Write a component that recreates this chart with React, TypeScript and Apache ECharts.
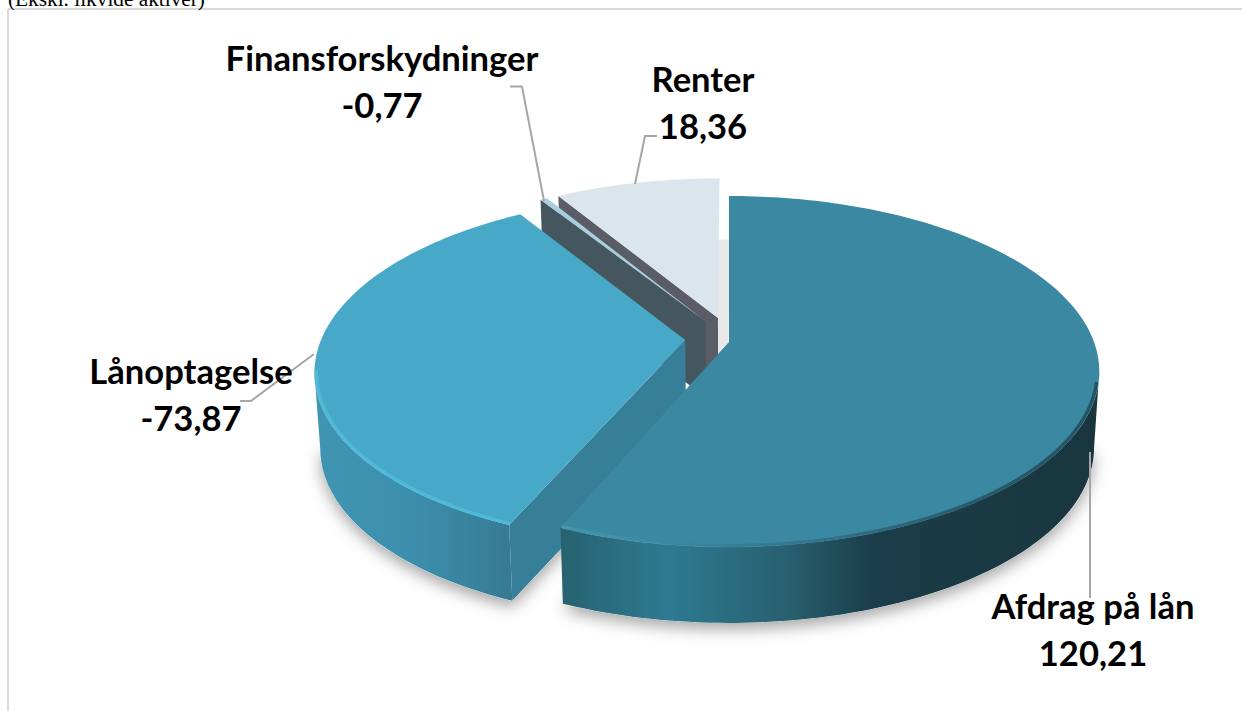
import React, { useEffect, useRef } from "react";
import * as echarts from "echarts";

const categories = ["Afdrag på lån", "Lånoptagelse", "Finansforskydninger", "Renter"];
const values = [120.21, -73.87, -0.77, 18.36];
const caption = "(Ekskl. likvide aktiver)";

// projection of the tilted pie
const CX = 729, CY = 342, C = 365, A = 170.5, K = -0.168, T = 76, BOTTOM_SCALE = 0.986;
const total = values.reduce((s, v) => s + Math.abs(v), 0);

const sliceStyle = [
  { off: [0, 0], top: "#3a88a2", cut: "#2c7287", z: 40,
    wall: [[0, "#27626f"], [0.2, "#2e7a91"], [0.42, "#28606f"], [0.58, "#1b3d49"], [1, "#19363f"]] },
  { off: [-0.12, -0.012], top: "#47a9c7", cut: "#377f98", z: 30,
    wall: [[0, "#3f95b2"], [0.5, "#3c8fac"], [1, "#367a94"]] },
  { off: [-0.066, -0.125], top: "#a9cfdf", cut: "#46565e", z: 20, wall: null },
  { off: [-0.031, -0.144], top: "#dae6ec", cut: "#5a5c66", z: 10, wall: null },
];

const labelBoxes = [
  { x: 1093, y: 629 },
  { x: 191, y: 394 },
  { x: 382, y: 81 },
  { x: 703, y: 102 },
];
const leaders = [
  [[1090, 452], [1090, 598]],
  [[314, 354], [251, 401], [240, 401]],
  [[544, 201], [522, 86.5], [510, 86.5]],
  [[635, 184], [645, 136], [657, 136]],
];

function project(theta: number, radius: number, off: number[], bottom: boolean): [number, number] {
  const u = radius * Math.sin(theta) + off[0];
  const v = -radius * Math.cos(theta) + off[1];
  const w = 1 + K * v;
  let x = CX + (C * u) / w;
  let y = CY + (A * v) / w;
  if (bottom) {
    x = CX + (x - CX) * BOTTOM_SCALE;
    y += T;
  }
  return [x, y];
}

function arcPoints(a0: number, a1: number, radius: number, off: number[], bottom: boolean) {
  const n = Math.max(4, Math.ceil(Math.abs(a1 - a0) / 0.02));
  const pts: [number, number][] = [];
  for (let i = 0; i <= n; i++) pts.push(project(a0 + ((a1 - a0) * i) / n, radius, off, bottom));
  return pts;
}

// angle of the rim point that lies furthest out sideways: where the visible wall begins
function silhouette(a0: number, a1: number, off: number[], sign: number) {
  let best = a0, bestX = -Infinity;
  for (let a = a0; a <= a1; a += 0.005) {
    const x = sign * project(a, 1, off, false)[0];
    if (x > bestX) { bestX = x; best = a; }
  }
  return best;
}

function hGradient(stops: any[]) {
  return {
    type: "linear", x: 0, y: 0, x2: 1, y2: 0,
    colorStops: stops.map(([offset, color]) => ({ offset, color })),
  };
}

const fmt = (v: number) => v.toFixed(2).replace(".", ",");

function renderSlice(params: any, api: any) {
  const i = params.dataIndex;
  const st = sliceStyle[i];
  let before = 0;
  for (let j = 0; j < i; j++) before += Math.abs(values[j]);
  const a0 = (before / total) * Math.PI * 2;
  const a1 = ((before + Math.abs(api.value(0))) / total) * Math.PI * 2;
  const off = st.off;
  const apexT = project(0, 0, off, false);
  const apexB = project(0, 0, off, true);
  const rimT = arcPoints(a0, a1, 1, off, false);
  const rimB = arcPoints(a0, a1, 1, off, true);
  const children: any[] = [];

  // visible part of the outer wall
  let w0 = a0, w1 = a1;
  if (i === 0) w0 = silhouette(a0, a1, off, 1);
  if (i === 1) w1 = silhouette(a0, a1, off, -1);

  // soft cast shadow below the body
  if (i < 2) {
    const body = [apexB, ...arcPoints(w0, w1, 1, off, true)];
    children.push({
      type: "polygon", z2: 1,
      shape: { points: body },
      style: { fill: "#ffffff", shadowColor: "rgba(0,0,0,0.36)", shadowBlur: 16, shadowOffsetX: 0, shadowOffsetY: 6 },
    });
  }
  if (i === 3) {
    const shifted = [apexB, ...rimB].map(([x, y]) => [x + 10, y - 15]);
    children.push({
      type: "polygon", z2: 2,
      shape: { points: shifted },
      style: { fill: "#e8e8e8" },
    });
  }

  // outer wall
  if (st.wall) {
    children.push({
      type: "polygon", z2: st.z,
      shape: { points: [...arcPoints(w0, w1, 1, off, false), ...arcPoints(w0, w1, 1, off, true).reverse()] },
      style: { fill: hGradient(st.wall) },
    });
  }
  // cut wall at the start of the slice
  const startT = project(a0, 1, off, false);
  const startB = project(a0, 1, off, true);
  children.push({
    type: "polygon", z2: st.z + 1,
    shape: { points: [apexT, startT, startB, apexB] },
    style: { fill: st.cut },
  });
  // top face
  children.push({
    type: "polygon", z2: st.z + 2,
    shape: { points: [apexT, ...rimT] },
    style: { fill: st.top },
  });
  // bevel on the rim
  if (i === 0) {
    const front = arcPoints(w0 + 0.06, a1, 0.995, off, false);
    children.push({
      type: "polyline", z2: st.z + 3,
      shape: { points: front },
      style: {
        fill: "none", lineWidth: 3.5, opacity: 0.7,
        stroke: hGradient([[0, "#4a9fb8"], [0.16, "#3c8ca6"], [0.45, "#2f6f84"], [0.75, "#1f4a58"], [1, "#1a3c48"]]),
      },
    });
  }
  if (i === 1) {
    const front = arcPoints(a0, w1 + 0.02, 0.995, off, false);
    children.push({
      type: "polyline", z2: st.z + 3,
      shape: { points: front },
      style: { fill: "none", lineWidth: 3.5, stroke: "#52bcdc", opacity: 0.85 },
    });
  }
  return { type: "group", children };
}

export default function App() {
  const ref = useRef<HTMLDivElement>(null);
  useEffect(() => {
    const prevMargin = document.body.style.margin;
    document.body.style.margin = "0";
    const chart = echarts.init(ref.current!, undefined, { renderer: "svg" });
    const textGraphics = categories.map((name, i) => ({
      type: "text",
      z: 20,
      x: labelBoxes[i].x,
      y: labelBoxes[i].y,
      style: {
        text: `${name}\n${fmt(values[i])}`,
        fontFamily: "Lato",
        fontWeight: "bold",
        fontSize: 34.6,
        lineHeight: 47,
        fill: "#000000",
        align: "center",
        verticalAlign: "middle",
      },
    }));
    const leaderGraphics = leaders.map((points) => ({
      type: "polyline",
      z: 15,
      shape: { points },
      style: { stroke: "#a6a6a6", lineWidth: 2, fill: "none" },
    }));
    chart.setOption({
      animation: false,
      backgroundColor: "#ffffff",
      graphic: [
        { type: "line", z: 1, shape: { x1: 8, y1: 9, x2: 1242, y2: 9 }, style: { stroke: "#d9d9d9", lineWidth: 2 } },
        { type: "line", z: 1, shape: { x1: 8, y1: 9, x2: 8, y2: 711 }, style: { stroke: "#dcdcdc", lineWidth: 2 } },
        {
          type: "text", z: 2, x: 8, y: 9,
          style: { text: caption, fontFamily: "Liberation Serif", fontSize: 21.3, fill: "#000000", align: "left", verticalAlign: "bottom" },
        },
        ...leaderGraphics,
        ...textGraphics,
      ],
      series: [
        {
          type: "custom",
          coordinateSystem: "none",
          z: 5,
          clip: false,
          silent: true,
          data: values.map((v) => [Math.abs(v)]),
          renderItem: renderSlice,
        },
      ],
    });
    return () => {
      chart.dispose();
      document.body.style.margin = prevMargin;
    };
  }, []);
  return <div ref={ref} style={{ position: "fixed", left: 0, top: 0, width: 1242, height: 711, overflow: "hidden" }} />;
}
